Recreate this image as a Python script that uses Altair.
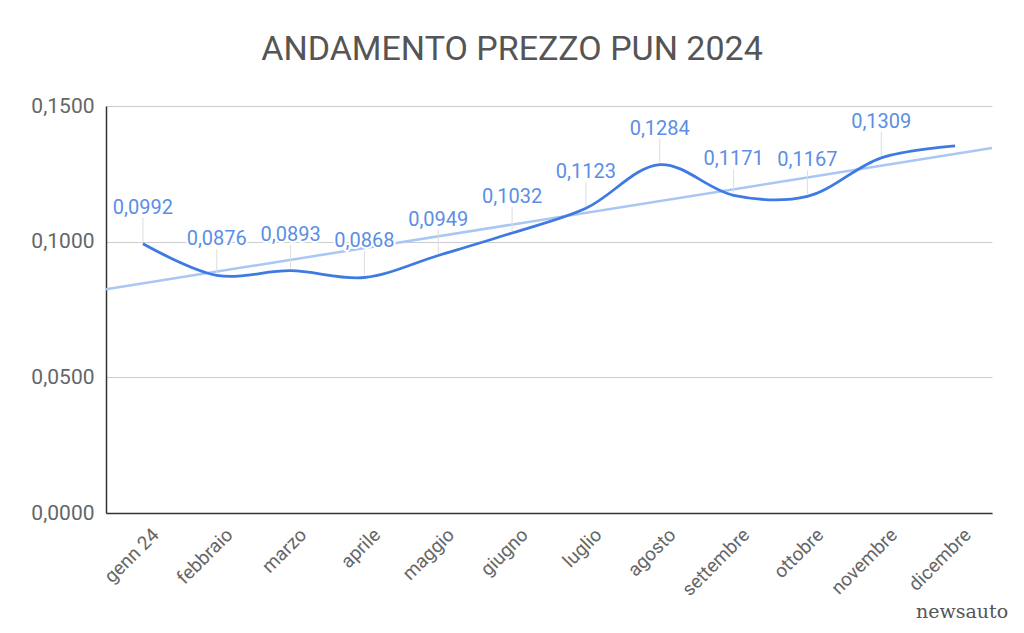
import altair as alt
import pandas as pd

months = ["genn 24", "febbraio", "marzo", "aprile", "maggio", "giugno",
          "luglio", "agosto", "settembre", "ottobre", "novembre", "dicembre"]
prices = [0.0992, 0.0876, 0.0893, 0.0868, 0.0949, 0.1032,
          0.1123, 0.1284, 0.1171, 0.1167, 0.1309, 0.1353]
show_label = [True] * 11 + [False]
y_ticks = [0.0, 0.05, 0.10, 0.15]

df = pd.DataFrame({"idx": list(range(len(months))), "mese": months,
                   "pun": prices, "lab": show_label})

month_arr = "[" + ",".join("'" + m + "'" for m in months) + "]"
FONT = "Roboto"

x = alt.X("idx:Q",
          scale=alt.Scale(domain=[-0.5, len(months) - 0.5], nice=False, zero=False),
          axis=alt.Axis(values=list(range(len(months))),
                        labelExpr=month_arr + "[datum.value]",
                        labelAngle=-45, grid=False, ticks=False,
                        labelOverlap=False, labelBound=False,
                        domainColor="#333333", domainWidth=1.5,
                        labelColor="#666666", labelFontSize=19, labelFont=FONT,
                        labelPadding=12, labelOffset=6, title=None))
y = alt.Y("pun:Q",
          scale=alt.Scale(domain=[0, 0.15], nice=False),
          axis=alt.Axis(values=y_ticks,
                        labelExpr="replace(format(datum.value,'.4f'),'.',',')",
                        gridColor="#cccccc", gridWidth=1, ticks=False,
                        domainColor="#333333", domainWidth=1.5,
                        labelColor="#666666", labelFontSize=21, labelFont=FONT,
                        labelPadding=12, title=None))

base = alt.Chart(df)

trend = base.transform_regression(
    "idx", "pun", extent=[-0.5, len(months) - 0.5]
).mark_line(color="#a9c6f5", strokeWidth=2.5).encode(x=x, y=y)

leaders = base.transform_filter("datum.lab").mark_rule(
    color="#dddddd", strokeWidth=1, yOffset=-2, y2Offset=-26
).encode(x=x, y=y, y2="pun:Q")

line = base.mark_line(color="#3d7ae2", strokeWidth=2.8,
                      interpolate="catmull-rom").encode(x=x, y=y)

lab_base = base.transform_filter("datum.lab").transform_calculate(
    label="replace(format(datum.pun,'.4f'),'.',',')")

halo = lab_base.mark_text(dy=-30, baseline="alphabetic", fontSize=20, font=FONT,
                          stroke="white", strokeWidth=4, color="white").encode(
    x=x, y=y, text="label:N")
labels = lab_base.mark_text(dy=-30, baseline="alphabetic", fontSize=20, font=FONT,
                            color="#5b8ee6").encode(x=x, y=y, text="label:N")

watermark = alt.Chart(pd.DataFrame({"t": ["newsauto"]})).mark_text(
    fontSize=19, font="DejaVu Serif", color="#555555", align="center", baseline="middle"
).encode(x=alt.value(856), y=alt.value(506), text="t:N")

chart = alt.layer(trend, leaders, line, halo, labels, watermark).properties(
    width=886, height=407,
    autosize=alt.AutoSizeParams(type="none"),
    padding={"left": 106, "top": 106, "right": 32, "bottom": 120},
    title=alt.TitleParams("ANDAMENTO PREZZO PUN 2024", fontSize=34, font=FONT,
                          fontWeight="normal", color="#555555", anchor="middle",
                          dx=-37, offset=28),
).configure_view(stroke=None)

chart.save("out.html", embed_options={"renderer": "svg", "actions": False})
